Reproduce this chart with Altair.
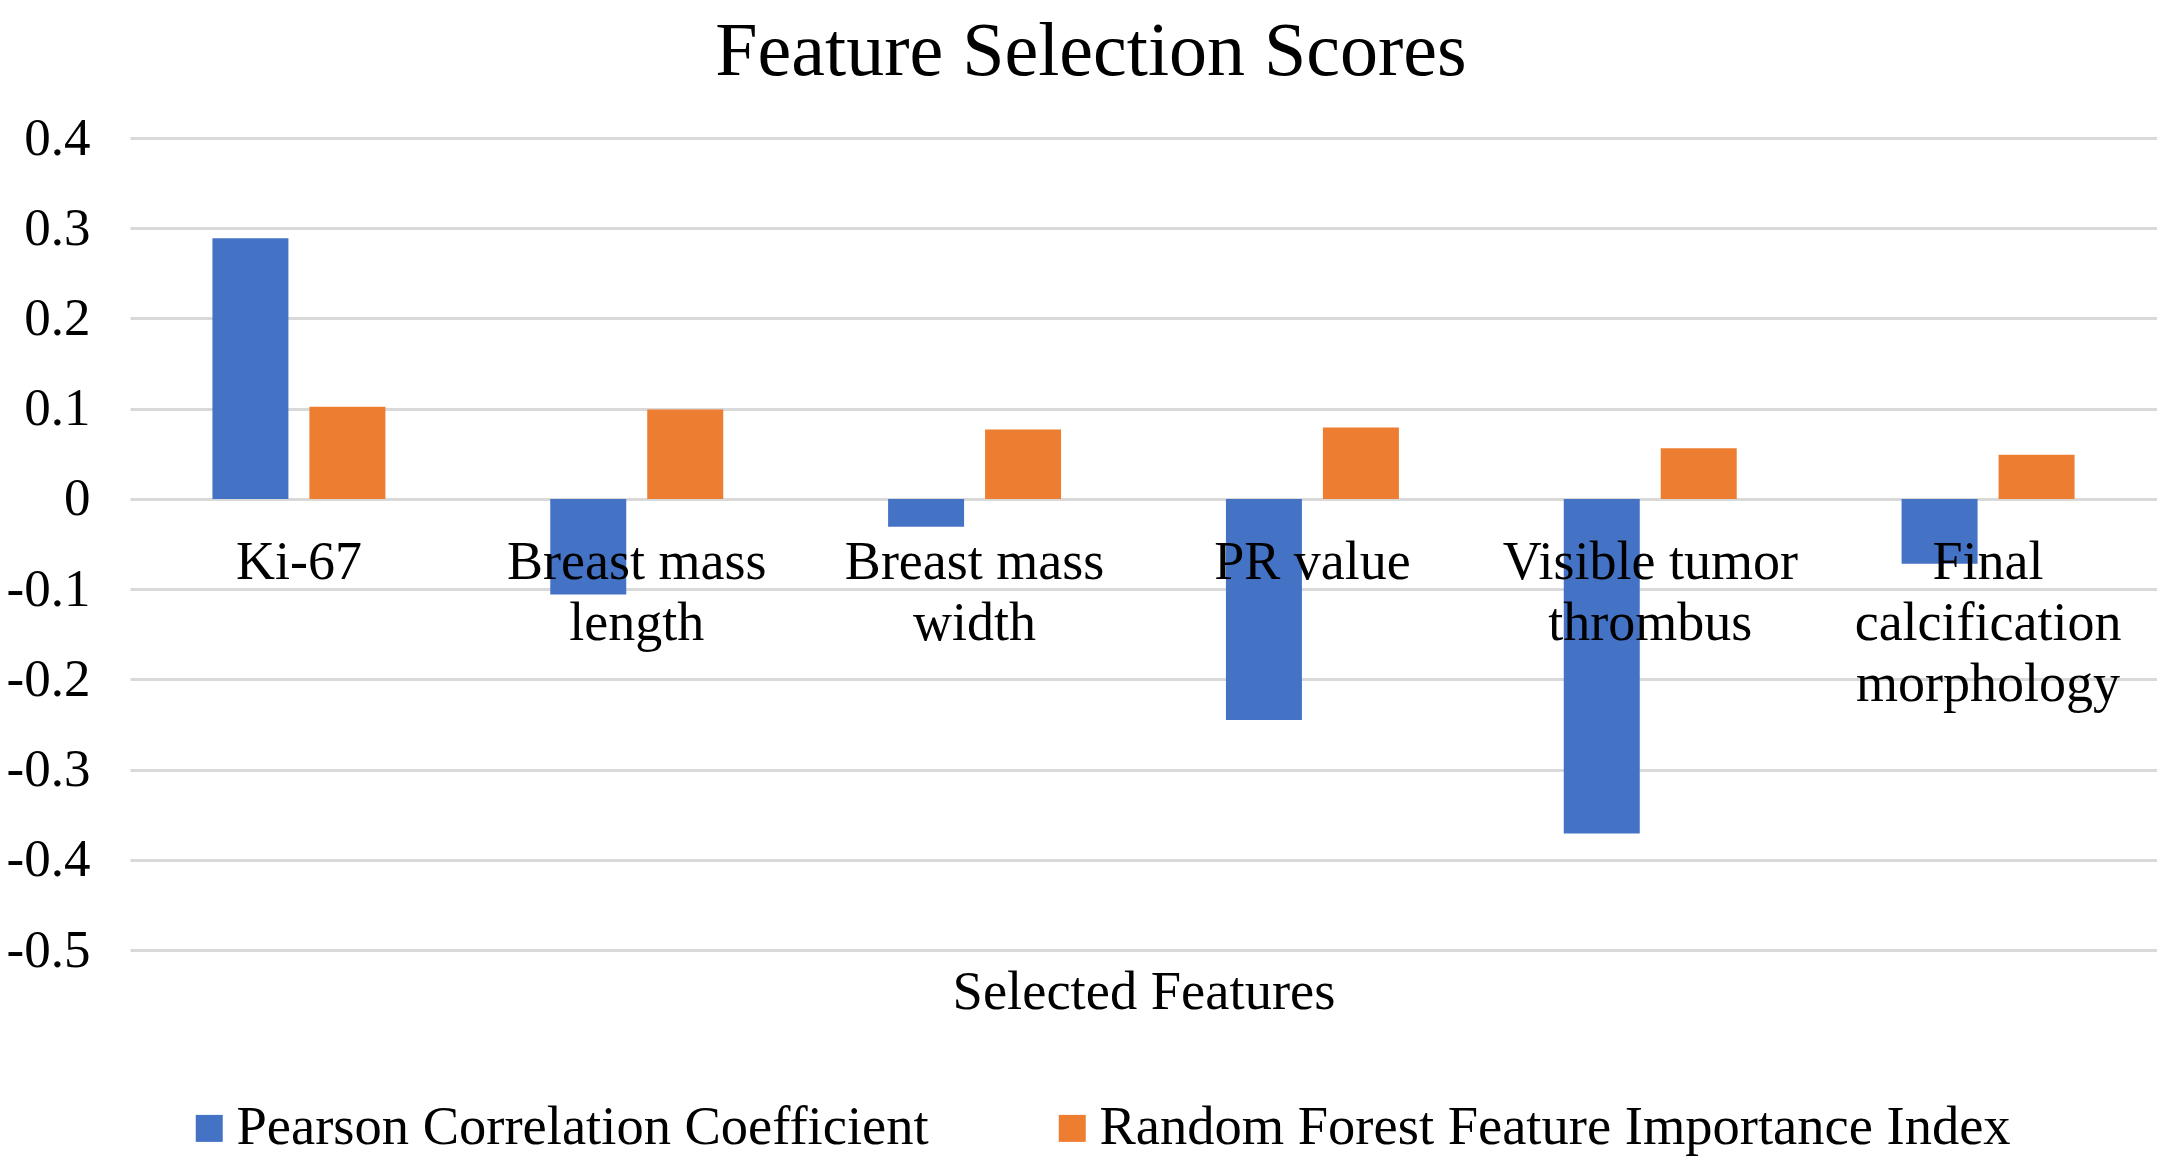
import altair as alt
import pandas as pd

# ---- data ----
categories = ["Ki-67", "Breast mass length", "Breast mass width", "PR value",
              "Visible tumor thrombus", "Final calcification morphology"]
category_labels = ["Ki-67", "Breast mass\nlength", "Breast mass\nwidth", "PR value",
                   "Visible tumor\nthrombus", "Final\ncalcification\nmorphology"]
series_names = ["Pearson Correlation Coefficient", "Random Forest Feature Importance Index"]
pearson = [0.289, -0.106, -0.031, -0.245, -0.371, -0.072]
rf_importance = [0.102, 0.099, 0.077, 0.079, 0.056, 0.049]
y_ticks = [0.4, 0.3, 0.2, 0.1, 0, -0.1, -0.2, -0.3, -0.4, -0.5]
colors = ["#4472C4", "#ED7D31"]
chart_title = "Feature Selection Scores"

FONT = "Liberation Serif"

rows = []
for c, v in zip(categories, pearson):
    rows.append({"category": c, "series": series_names[0], "value": v})
for c, v in zip(categories, rf_importance):
    rows.append({"category": c, "series": series_names[1], "value": v})
df = pd.DataFrame(rows)
labels_df = pd.DataFrame({"category": categories, "label": category_labels})
title_df = pd.DataFrame({"t": [chart_title]})

x_enc = alt.X(
    "category:N", sort=categories,
    scale=alt.Scale(paddingInner=0, paddingOuter=0),
    axis=alt.Axis(labels=False, ticks=False, domain=False, grid=False,
                  title="Selected Features", titleFont=FONT, titleFontSize=54.5,
                  titleFontWeight="normal", titleColor="black",
                  titleBaseline="alphabetic", titlePadding=58),
)
y_scale = alt.Scale(domain=[-0.5, 0.4], nice=False, zero=False)

bars = alt.Chart(df).mark_bar().encode(
    x=x_enc,
    xOffset=alt.XOffset("series:N", sort=series_names,
                        scale=alt.Scale(paddingInner=0.2165, paddingOuter=0.85)),
    y=alt.Y("value:Q", scale=y_scale,
            axis=alt.Axis(values=y_ticks, title=None, domain=False, ticks=False,
                          labelFont=FONT, labelFontSize=53, labelColor="black",
                          labelPadding=40,
                          labelExpr="datum.value == 0 ? '0' : toString(round(datum.value*10)/10)",
                          grid=True, gridColor="#d9d9d9", gridWidth=3)),
    color=alt.Color("series:N", sort=series_names,
                    scale=alt.Scale(domain=series_names, range=colors),
                    legend=alt.Legend(title=None, orient="none", direction="horizontal",
                                      legendX=52, legendY=963, padding=0,
                                      symbolType="square", symbolSize=729,
                                      symbolStrokeWidth=0,
                                      labelFont=FONT, labelFontSize=54.5,
                                      labelColor="black", labelOffset=0,
                                      columnPadding=116, labelLimit=1200)),
)

labels = alt.Chart(labels_df).mark_text(
    font=FONT, fontSize=54, color="black", baseline="alphabetic",
    align="center", dy=80, lineBreak="\n", lineHeight=61,
).encode(
    x=alt.X("category:N", sort=categories),
    y=alt.datum(0),
    text="label:N",
)

title = alt.Chart(title_df).mark_text(
    font=FONT, fontSize=76, color="black", baseline="alphabetic", align="center",
).encode(
    x=alt.value(961),
    y=alt.value(-63),
    text="t:N",
)

chart = (
    alt.layer(bars, labels, title)
    .properties(
        width=2027, height=812,
        padding={"left": 122, "top": 130, "right": 0, "bottom": 207},
        autosize=alt.AutoSizeParams(type="none"),
        background="white",
    )
    .configure_view(strokeWidth=0, stroke="transparent")
    .configure_axis(domain=False)
    .configure_axisX(grid=False, domain=False, ticks=False)
)

chart.save("out.html", embed_options={"renderer": "svg", "actions": False})
